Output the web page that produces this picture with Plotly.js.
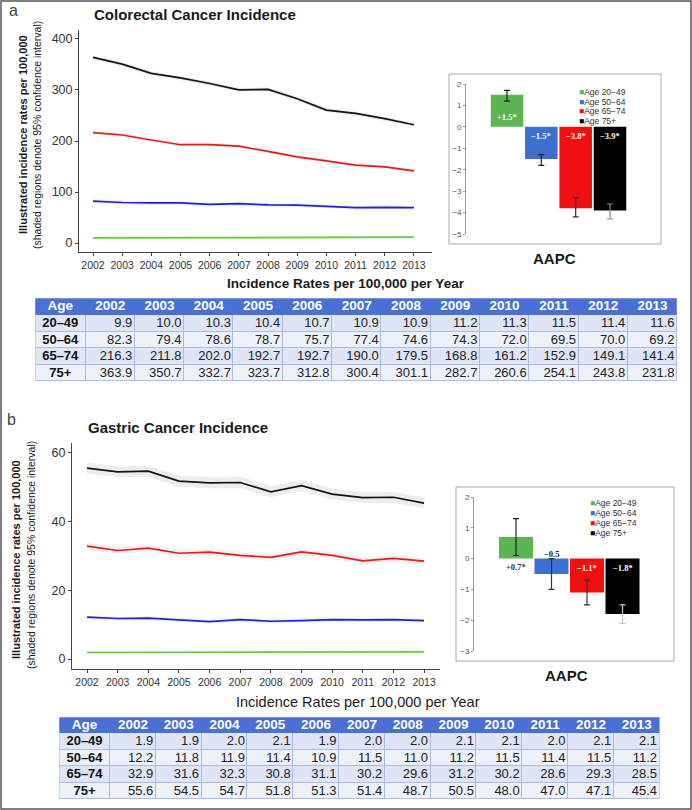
<!DOCTYPE html>
<html>
<head>
<meta charset="utf-8">
<script src="https://cdn.plot.ly/plotly-3.0.1.min.js"></script>
<style>html,body{margin:0;padding:0;background:#fff;}#chart{width:692px;height:810px;}</style>
</head>
<body>
<div id="chart"></div>
<script>
// ---------------- DATA ----------------
const years = [2002, 2003, 2004, 2005, 2006, 2007, 2008, 2009, 2010, 2011, 2012, 2013];
const ageGroups = ['20–49', '50–64', '65–74', '75+'];
const legendLabels = ['Age 20−49', 'Age 50−64', 'Age 65−74', 'Age 75+'];

// Colorectal cancer incidence per 100,000
const crc2049 = [9.9, 10.0, 10.3, 10.4, 10.7, 10.9, 10.9, 11.2, 11.3, 11.5, 11.4, 11.6];
const crc5064 = [82.3, 79.4, 78.6, 78.7, 75.7, 77.4, 74.6, 74.3, 72.0, 69.5, 70.0, 69.2];
const crc6574 = [216.3, 211.8, 202.0, 192.7, 192.7, 190.0, 179.5, 168.8, 161.2, 152.9, 149.1, 141.4];
const crc75 = [363.9, 350.7, 332.7, 323.7, 312.8, 300.4, 301.1, 282.7, 260.6, 254.1, 243.8, 231.8];

// Gastric cancer incidence per 100,000
const gc2049 = [1.9, 1.9, 2.0, 2.1, 1.9, 2.0, 2.0, 2.1, 2.1, 2.0, 2.1, 2.1];
const gc5064 = [12.2, 11.8, 11.9, 11.4, 10.9, 11.5, 11.0, 11.2, 11.5, 11.4, 11.5, 11.2];
const gc6574 = [32.9, 31.6, 32.3, 30.8, 31.1, 30.2, 29.6, 31.2, 30.2, 28.6, 29.3, 28.5];
const gc75 = [55.6, 54.5, 54.7, 51.8, 51.3, 51.4, 48.7, 50.5, 48.0, 47.0, 47.1, 45.4];

// AAPC (annual average percent change) with 95% CI
const crcAapc = [1.5, -1.5, -3.8, -3.9];
const crcAapcLow = [1.2, -1.8, -4.2, -4.3];
const crcAapcHigh = [1.7, -1.3, -3.3, -3.6];
const crcAapcText = ['+1.5*', '−1.5*', '−3.8*', '−3.9*'];

const gcAapc = [0.7, -0.5, -1.1, -1.8];
const gcAapcLow = [0.1, -1.0, -1.5, -2.1];
const gcAapcHigh = [1.3, 0.0, -0.7, -1.5];
const gcAapcText = ['+0.7*', '−0.5', '−1.1*', '−1.8*'];

// ---------------- STYLE ----------------
const W = 692, H = 810;
const px = v => v / W;
const py = v => 1 - v / H;
const SANS = 'Liberation Sans, Arial, sans-serif';
const SERIF = 'Liberation Serif, Times New Roman, serif';
const lineColors = ['#6cc93c', '#2323c4', '#d42222', '#141414'];
const barColors = ['#5db552', '#3d6fce', '#f20f0f', '#000000'];
const bandColors = ['rgba(108,201,60,0.10)', 'rgba(35,35,196,0.08)', 'rgba(212,34,34,0.08)', 'rgba(0,0,0,0.07)'];
const headerBlue = '#4a70d6';
const gridBlue = '#aebbe0';

const traces = [];
const shapes = [];
const annotations = [];

function addLines(series, xa, ya, bandWidths) {
  series.forEach((s, i) => {
    if (bandWidths[i] > 0) {
      traces.push({type: 'scatter', mode: 'lines', x: years, y: s, xaxis: xa, yaxis: ya,
        line: {color: bandColors[i], width: bandWidths[i]}, hoverinfo: 'skip', showlegend: false});
    }
  });
  series.forEach((s, i) => {
    traces.push({type: 'scatter', mode: 'lines', x: years, y: s, xaxis: xa, yaxis: ya,
      line: {color: lineColors[i], width: 1.7}, showlegend: false});
  });
}
addLines([crc2049, crc5064, crc6574, crc75], 'x', 'y', [3, 4, 4, 4]);
addLines([gc2049, gc5064, gc6574, gc75], 'x2', 'y2', [3, 4, 7, 11]);

const crcErrColors = ['#222', '#222', '#333', '#8a8a8a'];
const gcErrColors = ['#222', '#333', '#333', '#c4c8dc'];
function addBars(vals, low, high, xa, ya, width, errColors) {
  vals.forEach((v, i) => {
    traces.push({type: 'bar', x: [legendLabels[i]], y: [v], xaxis: xa, yaxis: ya, width: width,
      marker: {color: barColors[i], line: {width: 0}},
      error_y: {type: 'data', symmetric: false, array: [high[i] - v], arrayminus: [v - low[i]],
        color: errColors[i], thickness: 1.2, width: 3},
      showlegend: false});
  });
}
addBars(crcAapc, crcAapcLow, crcAapcHigh, 'x3', 'y3', 0.947, crcErrColors);
addBars(gcAapc, gcAapcLow, gcAapcHigh, 'x4', 'y4', 0.958, gcErrColors);

// ---------------- TABLES (heatmap cells + text) ----------------
const tableAxes = {};
function buildTable(k, series, left, top, ageW, yearW, headH, rowH, fontSize, headSize) {
  const xa = 'x' + k, ya = 'y' + k;
  const totalW = ageW + yearW * years.length;
  const totalH = headH + rowH * series.length;
  tableAxes['xaxis' + k] = {domain: [px(left), px(left + totalW)], range: [0, totalW], visible: false,
    fixedrange: true, anchor: ya};
  tableAxes['yaxis' + k] = {domain: [py(top + totalH), py(top)], range: [totalH, 0], visible: false,
    fixedrange: true, anchor: xa};
  const xEdges = [0];
  for (let j = 0; j <= years.length; j++) xEdges.push(ageW + yearW * j);
  const xCenters = xEdges.slice(0, -1).map((e, j) => (e + xEdges[j + 1]) / 2);
  const yEdges = [headH];
  series.forEach((s, i) => yEdges.push(headH + rowH * (i + 1)));
  const yCenters = yEdges.slice(0, -1).map((e, i) => (e + yEdges[i + 1]) / 2);
  const cs = [[0, headerBlue], [0.5, '#dde5f6'], [1, '#edf1fa']];
  shapes.push({type: 'rect', xref: xa, yref: ya, x0: 0, x1: totalW, y0: headH, y1: totalH,
    fillcolor: gridBlue, line: {width: 0}, layer: 'below'});
  traces.push({type: 'heatmap', xaxis: xa, yaxis: ya, x: xEdges, y: [0, headH],
    z: [xCenters.map(() => 0)], zmin: 0, zmax: 2, colorscale: cs, showscale: false, hoverinfo: 'skip'});
  traces.push({type: 'heatmap', xaxis: xa, yaxis: ya, x: xEdges, y: yEdges,
    z: series.map((s, i) => xCenters.map(() => (i % 2 === 0 ? 1 : 2))), zmin: 0, zmax: 2,
    colorscale: cs, showscale: false, xgap: 1, ygap: 1, hoverinfo: 'skip'});
  shapes.push({type: 'rect', xref: xa, yref: ya, x0: 0, x1: totalW, y0: 0, y1: totalH,
    line: {color: gridBlue, width: 1}});
  traces.push({type: 'scatter', mode: 'text', xaxis: xa, yaxis: ya,
    x: xCenters, y: xCenters.map(() => headH / 2 + 0.5),
    text: ['<b>Age</b>'].concat(years.map(y => '<b>' + y + '</b>')), textposition: 'middle center',
    textfont: {family: SANS, size: headSize, color: '#ffffff'}, hoverinfo: 'skip', showlegend: false});
  traces.push({type: 'scatter', mode: 'text', xaxis: xa, yaxis: ya,
    x: ageGroups.map(() => xCenters[0]), y: yCenters.map(v => v + 0.5),
    text: ageGroups.map(a => '<b>' + a + '</b>'), textposition: 'middle center',
    textfont: {family: SANS, size: fontSize, color: '#111'}, hoverinfo: 'skip', showlegend: false});
  const vx = [], vy = [], vt = [];
  series.forEach((s, i) => s.forEach((v, j) => {
    vx.push(xEdges[j + 2] - 2.5); vy.push(yCenters[i] + 0.5); vt.push(v.toFixed(1));
  }));
  traces.push({type: 'scatter', mode: 'text', xaxis: xa, yaxis: ya, x: vx, y: vy, text: vt,
    textposition: 'middle left', textfont: {family: SANS, size: fontSize, color: '#222'},
    hoverinfo: 'skip', showlegend: false});
}
buildTable(5, [crc2049, crc5064, crc6574, crc75], 35, 298, 50.5, 49.3, 17, 16.5, 13, 13.5);
buildTable(6, [gc2049, gc5064, gc6574, gc75], 59, 717, 51, 45.8, 16, 16.5, 13, 13.5);

// ---------------- AXES ----------------
const lineX = (dom, range, anchor) => ({domain: dom, range: range, anchor: anchor, tickvals: years, ticktext: years.map(String),
  tickfont: {family: SANS, size: 10.5, color: '#333'}, ticks: 'outside', ticklen: 3, tickcolor: '#444',
  showline: true, linecolor: '#444', linewidth: 1, showgrid: false, zeroline: false, fixedrange: true});
const lineY = (dom, range, tv, anchor) => ({domain: dom, range: range, anchor: anchor, tickvals: tv,
  tickfont: {family: SANS, size: 12.5, color: '#333'}, ticks: 'outside', ticklen: 3, tickcolor: '#444',
  showline: true, linecolor: '#444', linewidth: 1, showgrid: false, zeroline: false, fixedrange: true});
const barX = (dom, range, anchor) => ({domain: dom, range: range, anchor: anchor, type: 'category', categoryarray: legendLabels,
  showticklabels: false, showline: false, ticks: '', showgrid: false, zeroline: false, fixedrange: true});
const barY = (dom, range, anchor) => ({domain: dom, range: range, anchor: anchor, dtick: 1,
  tickfont: {family: SANS, size: 8, color: '#555'}, ticks: 'outside', ticklen: 2, tickcolor: '#999',
  showline: true, linecolor: '#999', linewidth: 1, showgrid: false, zeroline: false, fixedrange: true});

function ann(text, x, y, size, opts) {
  annotations.push(Object.assign({text: text, x: px(x), y: py(y), xref: 'paper', yref: 'paper',
    showarrow: false, font: {family: SANS, size: size, color: '#1a1a1a'}, xanchor: 'center', yanchor: 'middle'}, opts || {}));
}
ann('a', 13, 10, 16, {font: {family: SANS, size: 16, color: '#444'}});
ann('b', 12, 419, 16, {font: {family: SANS, size: 16, color: '#444'}});
ann('<b>Colorectal Cancer Incidence</b>', 195, 15, 15);
ann('<b>Gastric Cancer Incidence</b>', 178, 427, 15);
ann('<b>AAPC</b>', 554, 258, 15);
ann('<b>AAPC</b>', 566, 675, 15);
ann('<b>Incidence Rates per 100,000 per Year</b>', 346, 283, 13.5);
ann('Incidence Rates per 100,000 per Year', 358, 702, 14.5);
ann('<b>Illustrated incidence rates per 100,000</b>', 23, 135, 11, {textangle: -90});
ann('(shaded regions denote 95% confidence interval)', 37, 135, 10.5, {textangle: -90});
ann('<b>Illustrated incidence rates per 100,000</b>', 16, 560, 11, {textangle: -90});
ann('(shaded regions denote 95% confidence interval)', 31, 555, 10.5, {textangle: -90});

function legend(x0, ys) {
  legendLabels.forEach((l, i) => {
    ann('<span style="color:' + barColors[i] + '">■</span>' + l, x0, ys[i], 8.5,
      {xanchor: 'left', font: {family: SANS, size: 8.5, color: '#333'}});
  });
}
legend(577, [92, 102, 111.5, 121]);
legend(588, [503, 513, 523, 533]);

const crcShift = [10, -9, -9, -9];
crcAapcText.forEach((t, i) => annotations.push({text: '<b>' + t + '</b>', x: legendLabels[i], y: 0,
  xref: 'x3', yref: 'y3', yshift: crcShift[i], showarrow: false,
  font: {family: SERIF, size: 8.5, color: '#fff'}, xanchor: 'center', yanchor: 'middle'}));
const gcShift = [-8, 5, -9, -9];
const gcLabColor = ['#333', '#222', '#fff', '#fff'];
gcAapcText.forEach((t, i) => annotations.push({text: '<b>' + t + '</b>', x: legendLabels[i], y: 0,
  xref: 'x4', yref: 'y4', yshift: gcShift[i], showarrow: false,
  font: {family: SERIF, size: 8.5, color: gcLabColor[i]}, xanchor: 'center', yanchor: 'middle'}));

shapes.push(
  {type: 'rect', xref: 'paper', yref: 'paper', x0: px(1), x1: px(691), y0: py(809), y1: py(1),
    line: {color: '#555', width: 1.5}},
  {type: 'rect', xref: 'paper', yref: 'paper', x0: px(449), x1: px(661), y0: py(244), y1: py(74),
    line: {color: '#aaa', width: 1}},
  {type: 'rect', xref: 'paper', yref: 'paper', x0: px(456), x1: px(674), y0: py(661), y1: py(487),
    line: {color: '#aaa', width: 1}}
);

const layout = Object.assign({
  width: W, height: H, margin: {l: 0, r: 0, t: 0, b: 0},
  paper_bgcolor: '#ffffff', plot_bgcolor: 'rgba(0,0,0,0)', showlegend: false,
  barmode: 'overlay', font: {family: SANS},
  xaxis: lineX([px(79), px(432)], [2001.52, 2013.62], 'y'),
  yaxis: lineY([py(252), py(30)], [-17.6, 417.6], [0, 100, 200, 300, 400], 'x'),
  xaxis2: lineX([px(72), px(440)], [2001.51, 2013.52], 'y2'),
  yaxis2: lineY([py(669), py(443)], [-2.9, 62.9], [0, 20, 40, 60], 'x2'),
  xaxis3: barX([px(466), px(660)], [-1.194, 4.456], 'y3'),
  yaxis3: barY([py(234), py(84)], [-5, 2], 'x3'),
  xaxis4: barX([px(474), px(660)], [-1.183, 4.056], 'y4'),
  yaxis4: barY([py(651), py(497)], [-3, 2], 'x4'),
  annotations: annotations, shapes: shapes
}, tableAxes);

Plotly.newPlot('chart', traces, layout, {staticPlot: true, displayModeBar: false});
</script>
</body>
</html>
